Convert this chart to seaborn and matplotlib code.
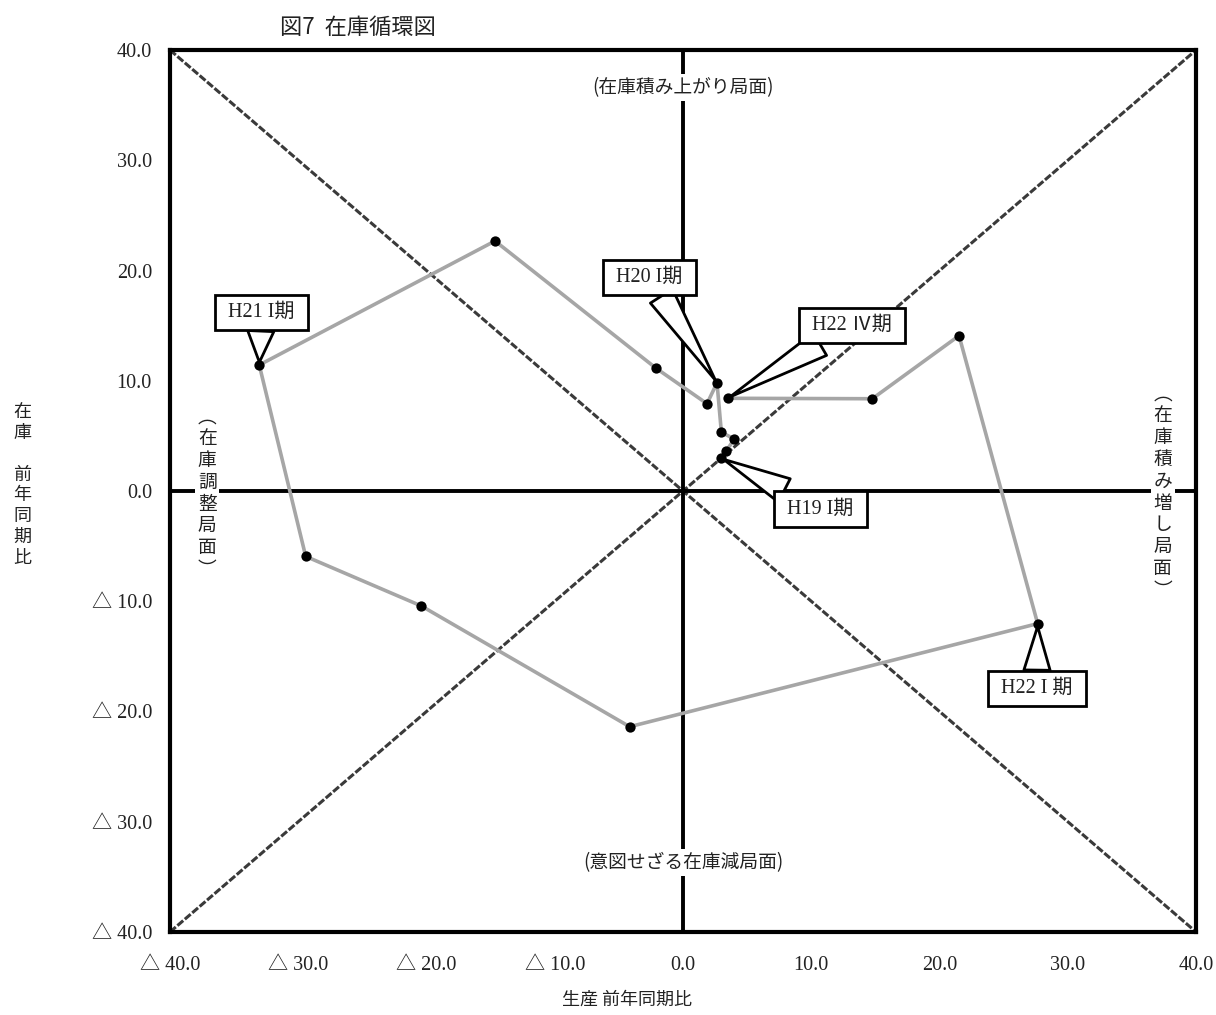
import matplotlib
matplotlib.use("Agg")
import matplotlib.pyplot as plt
import seaborn as sns
import pandas as pd

# ---- data ----
periods = ["H19 I", "H19 II", "H19 III", "H19 IV",
           "H20 I", "H20 II", "H20 III", "H20 IV",
           "H21 I", "H21 II", "H21 III", "H21 IV",
           "H22 I", "H22 II", "H22 III", "H22 IV"]
production = [2.96, 3.35, 4.00, 2.99,
              2.65, 1.87, -2.13, -14.66,
              -33.04, -29.42, -20.40, -4.16,
              27.65, 21.52, 14.76, 3.48]
inventory = [2.99, 3.60, 4.72, 5.32,
             9.82, 7.92, 11.16, 22.68,
             11.43, -5.93, -10.43, -21.38,
             -12.03, 14.09, 8.37, 8.41]

tick_values = [-40, -30, -20, -10, 0, 10, 20, 30, 40]
tick_labels = ["△ 40.0", "△ 30.0", "△ 20.0", "△ 10.0", "0.0",
               "10.0", "20.0", "30.0", "40.0"]

callout_periods = ["H19 I", "H20 I", "H21 I", "H22 I", "H22 IV"]
callout_texts = ["H19 I期", "H20 I期", "H21 I期", "H22 I 期", "H22 Ⅳ期"]
callout_box_x = [10.72, -2.61, -32.86, 27.58, 13.14]
callout_box_y = [-1.63, 19.37, 16.19, -17.93, 15.01]

title = "図7  在庫循環図"
xlabel = "生産 前年同期比"
ylabel = "在\n庫\n\n前\n年\n同\n期\n比"
phase_top = "(在庫積み上がり局面)"
phase_bottom = "(意図せざる在庫減局面)"
phase_left = "︵在庫調整局面︶"
phase_right = "︵在庫積み増し局面︶"

df = pd.DataFrame({"period": periods, "production": production, "inventory": inventory})

# ---- style ----
sns.set_theme(style="white")
plt.rcParams["font.family"] = ["Liberation Serif", "Noto Sans CJK JP", "DejaVu Sans"]
cjk = ["Noto Sans CJK JP", "DejaVu Sans"]

fig = plt.figure(figsize=(12.16, 10.15), dpi=100)
ax = fig.add_axes([0.1398, 0.0818, 0.8438, 0.8689])

# reference lines
ax.axline((0, 0), slope=1, color="#3a3a3a", lw=2.2, ls=(0, (2.5, 0.7)), zorder=1)
ax.axline((0, 0), slope=-1, color="#3a3a3a", lw=2.2, ls=(0, (2.5, 0.7)), zorder=1)
ax.axhline(0, color="black", lw=2.8, zorder=1.5)
ax.axvline(0, color="black", lw=2.8, zorder=1.5)

sns.lineplot(data=df, x="production", y="inventory", sort=False, ax=ax,
             color="#a6a6a6", lw=2.6, zorder=2)
sns.scatterplot(data=df, x="production", y="inventory", ax=ax,
                color="black", s=55, edgecolor="black", linewidth=0, zorder=3)

ax.set_xlim(-40, 40)
ax.set_ylim(-40, 40)
ax.set_xticks(tick_values)
ax.set_xticklabels(tick_labels)
ax.set_yticks(tick_values)
ax.set_yticklabels(tick_labels)
ax.tick_params(axis="both", length=0, labelsize=14.5, colors="#222222")
ax.tick_params(axis="x", pad=17)
ax.tick_params(axis="y", pad=13)
ax.set_xlabel("")
ax.set_ylabel("")
for sp in ax.spines.values():
    sp.set_visible(True)
    sp.set_color("black")
    sp.set_linewidth(3)

# phase labels
wb = dict(facecolor="white", edgecolor="none", pad=2)
ax.text(0, 36.6, phase_top, ha="center", va="center", fontsize=13.5,
        family=cjk, color="#222222", bbox=wb, zorder=4)
ax.text(0, -33.7, phase_bottom, ha="center", va="center", fontsize=13.5,
        family=cjk, color="#222222", bbox=wb, zorder=4)
ax.text(-37.1, -0.2, "\n".join(phase_left), ha="center", va="center", fontsize=13.5,
        family=cjk, color="#222222", linespacing=1.05, bbox=wb, zorder=4)
ax.text(37.4, -0.1, "\n".join(phase_right), ha="center", va="center", fontsize=13.5,
        family=cjk, color="#222222", linespacing=1.05, bbox=wb, zorder=4)

# callouts
for per, txt, bx, by in zip(callout_periods, callout_texts, callout_box_x, callout_box_y):
    row = df[df["period"] == per].iloc[0]
    ax.annotate(" " + txt + " ", xy=(row["production"], row["inventory"]),
                xytext=(bx, by), ha="center", va="center", fontsize=14.5,
                family=["Liberation Serif", "Noto Sans CJK JP"], color="#222222",
                bbox=dict(boxstyle="square,pad=0.4", fc="white", ec="black", lw=2),
                arrowprops=dict(arrowstyle="wedge,tail_width=1.3", fc="white",
                                ec="black", lw=2, shrinkA=0, shrinkB=2),
                zorder=5)

# titles
fig.text(280 / 1216, 1 - 28 / 1015, title, ha="left", va="center", fontsize=16,
         family=cjk, color="#222222")
fig.text(627 / 1216, 1 - 1000 / 1015, xlabel, ha="center", va="center", fontsize=13,
         family=cjk, color="#222222")
fig.text(22 / 1216, 1 - 485 / 1015, ylabel, ha="center", va="center", fontsize=13,
         family=cjk, color="#222222", linespacing=1.2)

fig.savefig("out.png", dpi=100, facecolor="white")
